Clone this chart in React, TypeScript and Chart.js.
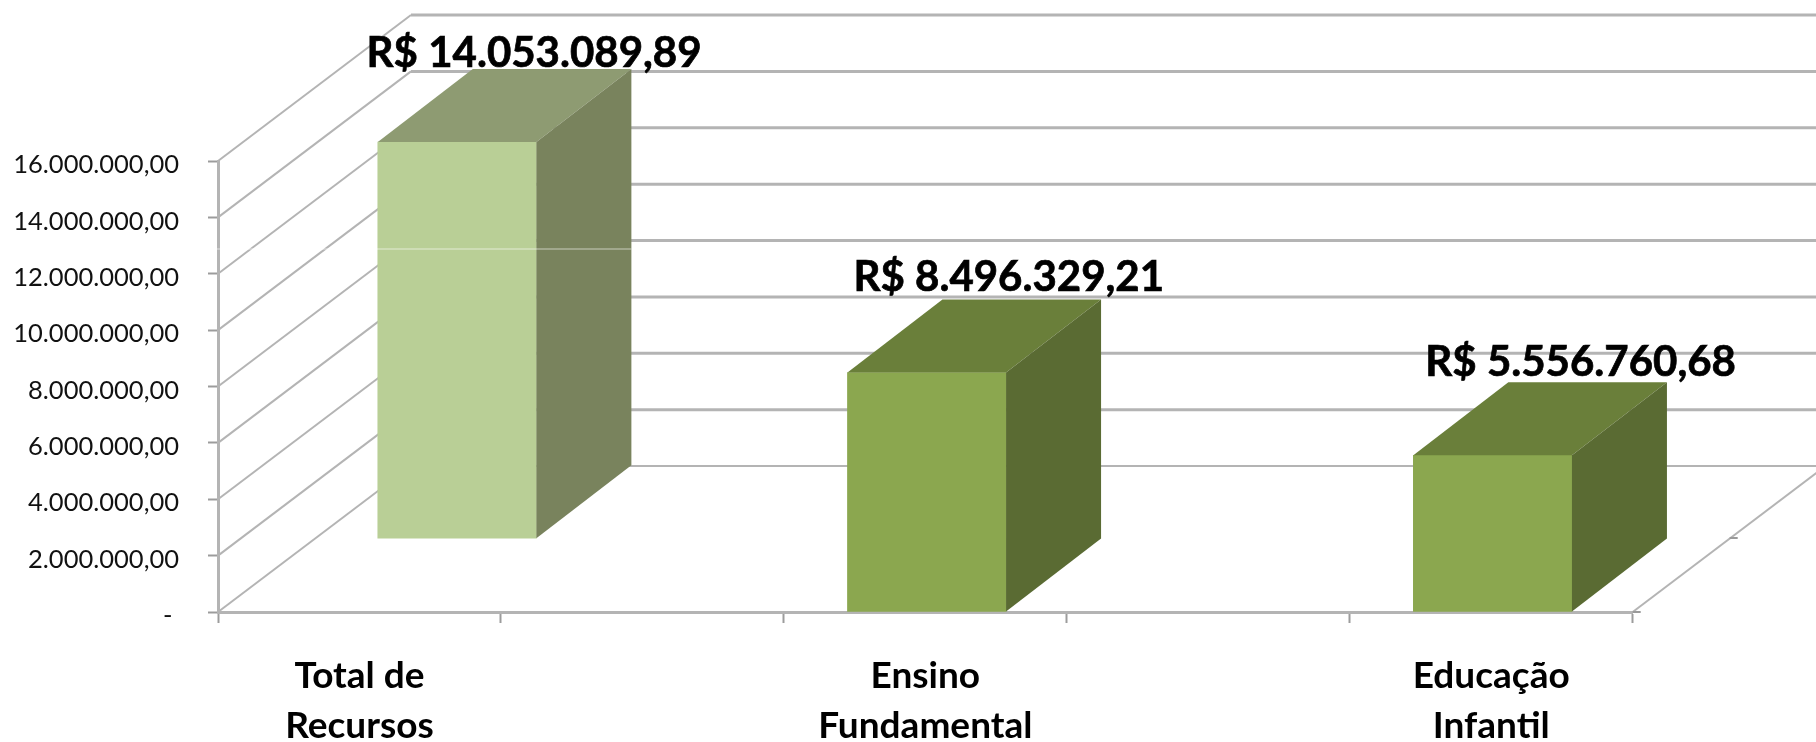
import React, { useEffect, useRef } from "react";
import { Chart, registerables } from "chart.js";

Chart.register(...registerables);

const categories = [["Total de", "Recursos"], "", ["Ensino", "Fundamental"], "", ["Educação", "Infantil"]];
const barSlots = [0.845, 2.505, 4.505];
const barBases = [2620000, 0, 0];
const barValues = [14053089.89, 8496329.21, 5556760.68];
const barLabels = ["R$ 14.053.089,89", "R$ 8.496.329,21", "R$ 5.556.760,68"];
const yTickLabels = [
  "- ",
  "2.000.000,00",
  "4.000.000,00",
  "6.000.000,00",
  "8.000.000,00",
  "10.000.000,00",
  "12.000.000,00",
  "14.000.000,00",
  "16.000.000,00",
];
const frontColors = ["#B9CF96", "#8BA74F", "#8BA74F"];
const topColors = ["#8E9B72", "#6A7F3A", "#6A7F3A"];
const sideColors = ["#79835D", "#5A6B33", "#5A6B33"];

const WALL_DX = 193;
const WALL_DY = 146;
const BAR_DX = 95;
const BAR_DY = 73;
const GRID = "#b4b4b4";
const LABEL_DX = [77, 82, 88];
const LABEL_DY = [-89, -95, -93];

const walls3d = {
  id: "walls3d",
  afterLayout(chart: any) {
    const s = chart.scales.y;
    if (s.__shifted) return;
    s.__shifted = true;
    const orig = s._computeLabelItems.bind(s);
    s._computeLabelItems = (area: any) =>
      orig(area).map((item: any) => ({
        ...item,
        options: {
          ...item.options,
          translation: [item.options.translation[0], item.options.translation[1] + 4],
        },
      }));
  },
  beforeDatasetsDraw(chart: any) {
    const { ctx, scales, chartArea } = chart;
    const y = scales.y;
    ctx.save();
    ctx.lineCap = "butt";
    y.ticks.forEach((t: any) => {
      const py = y.getPixelForValue(t.value);
      // side wall
      ctx.strokeStyle = GRID;
      ctx.lineWidth = 2;
      ctx.beginPath();
      ctx.moveTo(chartArea.left, py);
      ctx.lineTo(chartArea.left + WALL_DX, py - WALL_DY);
      ctx.stroke();
      // back wall
      ctx.lineWidth = t.value === 0 ? 2 : 3;
      ctx.beginPath();
      ctx.moveTo(chartArea.left + WALL_DX, py - WALL_DY);
      ctx.lineTo(chart.width, py - WALL_DY);
      ctx.stroke();
    });
    // floor edge at the right
    const base = y.getPixelForValue(0);
    ctx.lineWidth = 2;
    ctx.beginPath();
    ctx.moveTo(chartArea.right, base);
    ctx.lineTo(chartArea.right + WALL_DX, base - WALL_DY);
    ctx.stroke();
    // stray marks of the original
    ctx.strokeStyle = "#9a9a9a";
    ctx.beginPath();
    ctx.moveTo(chartArea.right, base);
    ctx.lineTo(chartArea.right + 8, base);
    ctx.moveTo(chartArea.right + 97, base - 74);
    ctx.lineTo(chartArea.right + 105, base - 74);
    ctx.stroke();
    ctx.restore();
  },
  afterDatasetsDraw(chart: any) {
    const { ctx, chartArea } = chart;
    const bars = chart.getDatasetMeta(0).data;
    ctx.save();
    bars.forEach((b: any, i: number) => {
      const l = b.x - b.width / 2;
      const r = b.x + b.width / 2;
      const top = b.y;
      const bot = b.base;
      ctx.fillStyle = topColors[i];
      ctx.beginPath();
      ctx.moveTo(l, top);
      ctx.lineTo(l + BAR_DX, top - BAR_DY);
      ctx.lineTo(r + BAR_DX, top - BAR_DY);
      ctx.lineTo(r, top);
      ctx.closePath();
      ctx.fill();
      ctx.fillStyle = sideColors[i];
      ctx.beginPath();
      ctx.moveTo(r, top);
      ctx.lineTo(r + BAR_DX, top - BAR_DY);
      ctx.lineTo(r + BAR_DX, bot - BAR_DY);
      ctx.lineTo(r, bot);
      ctx.closePath();
      ctx.fill();
    });
    // pale seam across the first bar and the axis
    ctx.strokeStyle = "rgba(255,255,255,0.4)";
    ctx.lineWidth = 1.5;
    const seam = chartArea.top + 88;
    ctx.beginPath();
    ctx.moveTo(chartArea.left - 2, seam);
    ctx.lineTo(bars[0].x + bars[0].width / 2 + BAR_DX, seam);
    ctx.stroke();
    // value labels
    ctx.fillStyle = "#000";
    ctx.strokeStyle = "#000";
    ctx.lineWidth = 0.7;
    ctx.font = "bold 42px Lato";
    ctx.textAlign = "center";
    ctx.textBaseline = "middle";
    bars.forEach((b: any, i: number) => {
      ctx.fillText(barLabels[i], b.x + LABEL_DX[i], b.y + LABEL_DY[i]);
      ctx.strokeText(barLabels[i], b.x + LABEL_DX[i], b.y + LABEL_DY[i]);
    });
    ctx.restore();
  },
};

export default function App() {
  const ref = useRef<HTMLCanvasElement>(null);
  useEffect(() => {
    document.body.style.margin = "0";
    document.body.style.overflow = "hidden";
    const chart = new Chart(ref.current as HTMLCanvasElement, {
      type: "bar",
      data: {
        labels: categories as any,
        datasets: [
          {
            label: "Recursos",
            xAxisID: "xb",
            yAxisID: "y",
            data: barValues.map((v, i) => ({ x: barSlots[i], y: [barBases[i], barBases[i] + v] })) as any,
            backgroundColor: frontColors,
            barThickness: 158.6,
            clip: false as any,
          },
        ],
      },
      options: {
        responsive: false,
        animation: false,
        devicePixelRatio: 1,
        layout: { padding: { left: 0, right: 183.3, top: 161, bottom: 0 } },
        plugins: { legend: { display: false }, tooltip: { enabled: false }, title: { display: false } },
        scales: {
          xb: {
            type: "linear",
            min: 0,
            max: 5,
            display: false,
            position: "bottom",
            offset: false,
            grid: { offset: false },
          },
          x: {
            type: "category",
            position: "bottom",
            offset: true,
            afterFit: (s: any) => {
              s.height = 130;
            },
            grid: {
              offset: true,
              drawOnChartArea: false,
              tickLength: 11,
              tickWidth: 2,
              tickColor: "#9c9c9c",
            },
            border: { color: "#b4b4b4", width: 3 },
            ticks: {
              autoSkip: false,
              maxRotation: 0,
              minRotation: 0,
              padding: 28,
              color: "#000",
              font: { family: "Lato", size: 37, weight: "bold", lineHeight: 50 / 37 },
            },
          },
          y: {
            type: "linear",
            position: "left",
            min: 0,
            max: 16000000,
            afterFit: (s: any) => {
              s.width = 218;
            },
            grid: {
              drawOnChartArea: false,
              tickLength: 10,
              tickWidth: 2,
              tickColor: "#9c9c9c",
            },
            border: { color: "#b4b4b4", width: 3 },
            ticks: {
              stepSize: 2000000,
              autoSkip: false,
              padding: 29,
              color: "#111",
              font: { family: "Lato", size: 25.5 },
              callback: (_v: any, i: number) => yTickLabels[i],
            },
          },
        },
      },
      plugins: [walls3d],
    } as any);
    return () => chart.destroy();
  }, []);
  return (
    <canvas
      ref={ref}
      width={1816}
      height={742}
      style={{ position: "absolute", left: 0, top: 0, display: "block", width: 1816, height: 742, filter: "blur(0.6px)" }}
    />
  );
}
